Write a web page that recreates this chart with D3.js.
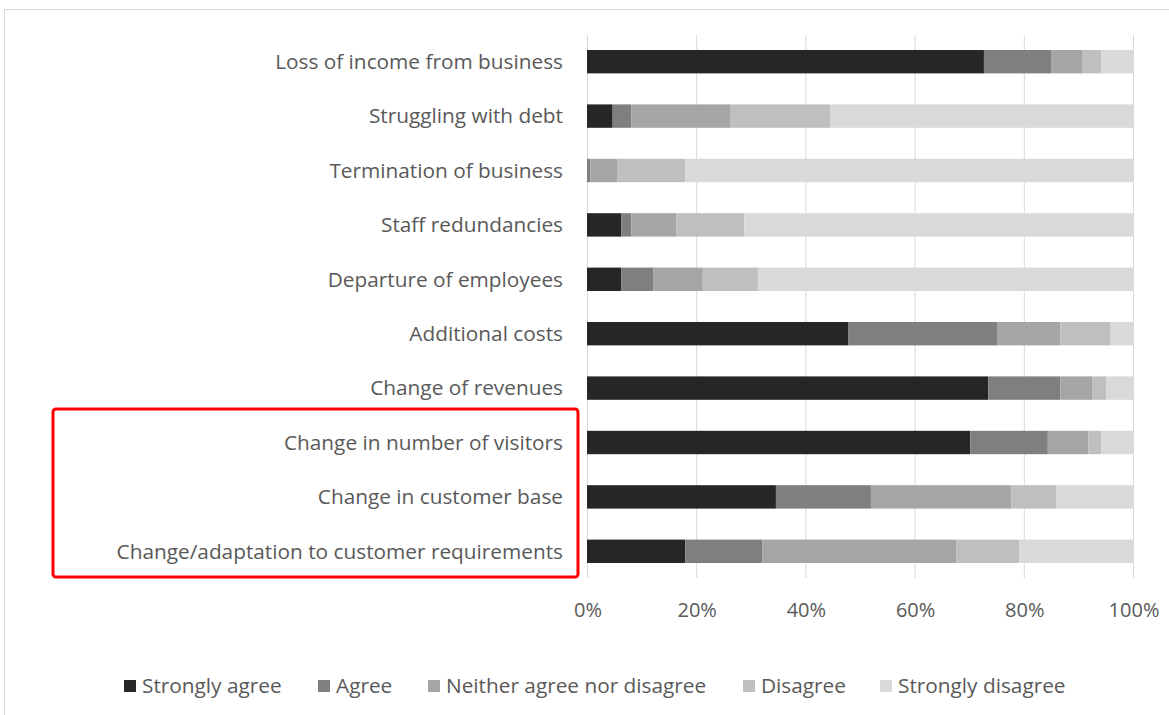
<!DOCTYPE html>
<meta charset="utf-8">
<script src="https://d3js.org/d3.v7.min.js"></script>
<style>
  body { margin: 0; background: #fff; }
  text { font-family: "Open Sans", sans-serif; fill: #595959; }
</style>
<body>
<div id="chart"></div>
<script>
// categories, top to bottom
var categories = [
  "Loss of income from business",
  "Struggling with debt",
  "Termination of business",
  "Staff redundancies",
  "Departure of employees",
  "Additional costs",
  "Change of revenues",
  "Change in number of visitors",
  "Change in customer base",
  "Change/adaptation to customer requirements"
];

var responses = ["Strongly agree", "Agree", "Neither agree nor disagree", "Disagree", "Strongly disagree"];

// shares in %, one array per response, same order as categories
var stronglyAgree = [72.7, 4.7, 0.0, 6.3, 6.3, 47.9, 73.5, 70.2, 34.6, 18.0];
var agree         = [12.4, 3.4, 0.6, 1.8, 5.9, 27.2, 13.2, 14.2, 17.4, 14.1];
var neither       = [ 5.7, 18.1, 4.9, 8.3, 9.0, 11.6, 5.8, 7.4, 25.7, 35.5];
var disagree      = [ 3.4, 18.3, 12.5, 12.4, 10.1, 9.1, 2.6, 2.4, 8.3, 11.6];
var stronglyDis   = [ 5.8, 55.5, 82.0, 71.2, 68.7, 4.2, 4.9, 5.8, 14.0, 20.8];

var ticks = [0, 20, 40, 60, 80, 100];

var colors = ["#262626", "#7f7f7f", "#a5a5a5", "#bfbfbf", "#d9d9d9"];

var series = [stronglyAgree, agree, neither, disagree, stronglyDis];
var rows = categories.map(function(c, i) {
  var r = { cat: c };
  responses.forEach(function(k, j) { r[k] = series[j][i]; });
  return r;
});

var W = 1169, H = 715;
var svg = d3.select("#chart").append("svg")
  .attr("width", W).attr("height", H);

// outer chart frame
svg.append("rect")
  .attr("x", 4.5).attr("y", 9.5)
  .attr("width", 1300).attr("height", 900)
  .attr("fill", "none").attr("stroke", "#d9d9d9");

var x = d3.scaleLinear().domain([0, 100]).range([587, 1133]);
var y = d3.scaleBand().domain(categories).range([34.5, 578.5]).paddingInner(0.57).paddingOuter(0.285);

// gridlines
svg.append("g").selectAll("line")
  .data(ticks).enter().append("line")
    .attr("x1", function(d) { return x(d) + 0.5; })
    .attr("x2", function(d) { return x(d) + 0.5; })
    .attr("y1", 35).attr("y2", 578)
    .attr("stroke", "#d9d9d9").attr("stroke-width", 1);

var stack = d3.stack().keys(responses);
var layers = stack(rows);

svg.append("g").selectAll("g")
  .data(layers).enter().append("g")
    .attr("fill", function(d, i) { return colors[i]; })
  .selectAll("rect")
  .data(function(d) { return d; }).enter().append("rect")
    .attr("x", function(d) { return x(d[0]); })
    .attr("width", function(d) { return x(d[1]) - x(d[0]); })
    .attr("y", function(d) { return y(d.data.cat); })
    .attr("height", y.bandwidth());

// category labels
svg.append("g").selectAll("text")
  .data(categories).enter().append("text")
    .attr("x", 563)
    .attr("y", function(d) { return y(d) + y.bandwidth() / 2; })
    .attr("dy", "0.35em")
    .attr("text-anchor", "end")
    .style("font-size", "20.8px")
    .text(function(d) { return d; });

// x axis tick labels
svg.append("g").selectAll("text")
  .data(ticks).enter().append("text")
    .attr("x", function(d) { return x(d) + 1; })
    .attr("y", 610)
    .attr("dy", "0.35em")
    .attr("text-anchor", "middle")
    .style("font-size", "20px")
    .text(function(d) { return d + "%"; });

// legend
var legendX = [124, 318, 428, 743, 880];
var legend = svg.append("g").selectAll("g")
  .data(responses).enter().append("g")
    .attr("transform", function(d, i) { return "translate(" + legendX[i] + ",686)"; });
legend.append("rect")
  .attr("x", 0).attr("y", -6).attr("width", 12).attr("height", 12)
  .attr("fill", function(d, i) { return colors[i]; });
legend.append("text")
  .attr("x", 18).attr("dy", "0.35em")
  .style("font-size", "20.8px")
  .text(function(d) { return d; });

// red highlight box
svg.append("rect")
  .attr("x", 53).attr("y", 409)
  .attr("width", 525).attr("height", 168)
  .attr("rx", 3)
  .attr("fill", "none").attr("stroke", "#ff0000").attr("stroke-width", 3);
</script>
</body>
